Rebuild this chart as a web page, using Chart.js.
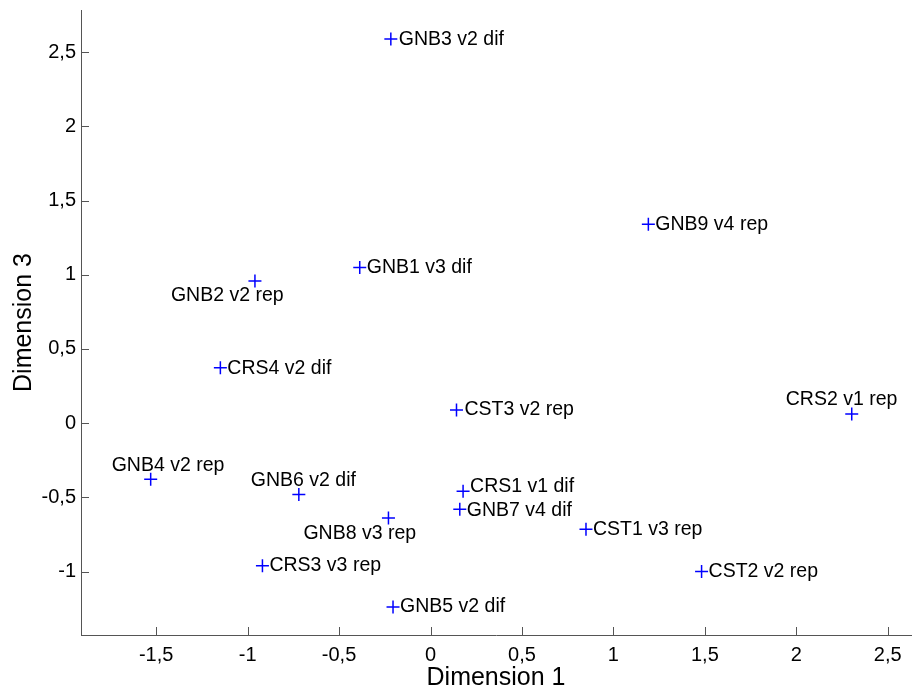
<!DOCTYPE html>
<html>
<head>
<meta charset="utf-8">
<script src="https://cdn.jsdelivr.net/npm/chart.js@4.4.1/dist/chart.umd.min.js"></script>
<style>
  html, body { margin: 0; padding: 0; background: #fff; }
  #wrap { width: 912px; height: 693px; }
</style>
</head>
<body>
<div id="wrap"><canvas id="c" width="912" height="693"></canvas></div>
<script>
// ---- data ----
const labels = ["GNB3 v2 dif","GNB9 v4 rep","GNB1 v3 dif","GNB2 v2 rep","CRS4 v2 dif","CST3 v2 rep","CRS2 v1 rep","GNB4 v2 rep","GNB6 v2 dif","GNB8 v3 rep","CRS3 v3 rep","GNB5 v2 dif","CRS1 v1 dif","GNB7 v4 dif","CST1 v3 rep","CST2 v2 rep"];
const dim1 = [-0.217, 1.191, -0.387, -0.960, -1.149, 0.142, 2.303, -1.530, -0.720, -0.230, -0.919, -0.205, 0.178, 0.160, 0.850, 1.482];
const dim3 = [2.590, 1.340, 1.050, 0.958, 0.373, 0.088, 0.061, -0.378, -0.481, -0.639, -0.962, -1.239, -0.459, -0.580, -0.715, -1.000];
const xTicks = [-1.5, -1, -0.5, 0, 0.5, 1, 1.5, 2, 2.5];
const yTicks = [-1, -0.5, 0, 0.5, 1, 1.5, 2, 2.5];
const xRange = [-1.911, 2.627];
const yRange = [-1.428, 2.785];

// ---- label placement (pixel offsets of text left edge / vertical middle from marker) ----
const labelDx = [8, 7, 7, -84, 7, 8, -66, -39, -48, -85, 7, 7, 7, 7, 7, 7];
const labelDy = [1, 0, 0, 15, 1, 0, -14, -14, -14, 16, 0, 0, -5, 1, 0, 0];

const FONT = "'Liberation Sans', Arial, Helvetica, sans-serif";
const AXIS_COLOR = '#555555';

const points = dim1.map((x, i) => ({ x: x, y: dim3[i] }));

const fmt = v => String(v).replace('.', ',');
const noPad = () => ({ left: 0, top: 0, right: 0, bottom: 0 });

const pointLabels = {
  id: 'pointLabels',
  afterDatasetsDraw(chart) {
    const ctx = chart.ctx;
    const meta = chart.getDatasetMeta(0);
    ctx.save();
    ctx.font = '19.5px ' + FONT;
    ctx.fillStyle = '#000';
    ctx.textAlign = 'left';
    ctx.textBaseline = 'middle';
    meta.data.forEach((el, i) => {
      ctx.fillText(labels[i], el.x + labelDx[i], el.y + labelDy[i]);
    });
    ctx.restore();
  }
};

const innerTicks = {
  id: 'innerTicks',
  afterDraw(chart) {
    const ctx = chart.ctx;
    const xs = chart.scales.x, ys = chart.scales.y;
    const a = chart.chartArea;
    ctx.save();
    ctx.strokeStyle = AXIS_COLOR;
    ctx.lineWidth = 1;
    ctx.beginPath();
    xTicks.forEach(v => {
      const px = Math.round(xs.getPixelForValue(v)) + 0.5;
      ctx.moveTo(px, a.bottom);
      ctx.lineTo(px, a.bottom - 8);
    });
    yTicks.forEach(v => {
      const py = Math.round(ys.getPixelForValue(v)) + 0.5;
      ctx.moveTo(a.left, py);
      ctx.lineTo(a.left + 8, py);
    });
    ctx.stroke();
    ctx.restore();
  }
};

new Chart(document.getElementById('c'), {
  type: 'scatter',
  data: {
    datasets: [{
      data: points,
      pointStyle: 'cross',
      pointRadius: 6.5,
      pointHoverRadius: 6.5,
      borderColor: '#0000ff',
      backgroundColor: '#0000ff',
      pointBorderWidth: 1.5,
      showLine: false,
      clip: false
    }]
  },
  options: {
    responsive: false,
    animation: false,
    devicePixelRatio: 1,
    layout: { autoPadding: false, padding: { top: 10, right: 1, left: 0, bottom: 0 } },
    plugins: { legend: { display: false }, tooltip: { enabled: false } },
    scales: {
      x: {
        type: 'linear',
        min: xRange[0], max: xRange[1],
        afterBuildTicks: s => { s.ticks = xTicks.map(v => ({ value: v })); },
        afterFit: s => {
          s.height = 58; s.paddingLeft = 0; s.paddingRight = 0;
          s.getPadding = noPad;
          if (s._margins) { s._margins.left = 0; s._margins.right = 0; }
        },
        grid: { display: false, drawTicks: false },
        border: { display: true, color: AXIS_COLOR, width: 1 },
        ticks: {
          color: '#000', padding: 8, maxRotation: 0, autoSkip: false,
          font: { family: FONT, size: 20 },
          callback: v => fmt(v)
        },
        title: {
          display: true, text: 'Dimension 1', color: '#000',
          font: { family: FONT, size: 25 }, padding: { top: 0, bottom: 0 }
        }
      },
      y: {
        type: 'linear',
        min: yRange[0], max: yRange[1],
        afterBuildTicks: s => { s.ticks = yTicks.map(v => ({ value: v })); },
        afterFit: s => {
          s.width = 81; s.paddingTop = 0; s.paddingBottom = 0;
          s.getPadding = noPad;
          if (s._margins) { s._margins.top = 0; s._margins.bottom = 0; }
        },
        grid: { display: false, drawTicks: false },
        border: { display: true, color: AXIS_COLOR, width: 1 },
        ticks: {
          color: '#000', padding: 5, autoSkip: false,
          font: { family: FONT, size: 20 },
          callback: v => fmt(v)
        },
        title: {
          display: true, text: 'Dimension 3', color: '#000',
          font: { family: FONT, size: 25 }, padding: { top: 9, bottom: 0 }
        }
      }
    }
  },
  plugins: [pointLabels, innerTicks]
});
</script>
</body>
</html>
